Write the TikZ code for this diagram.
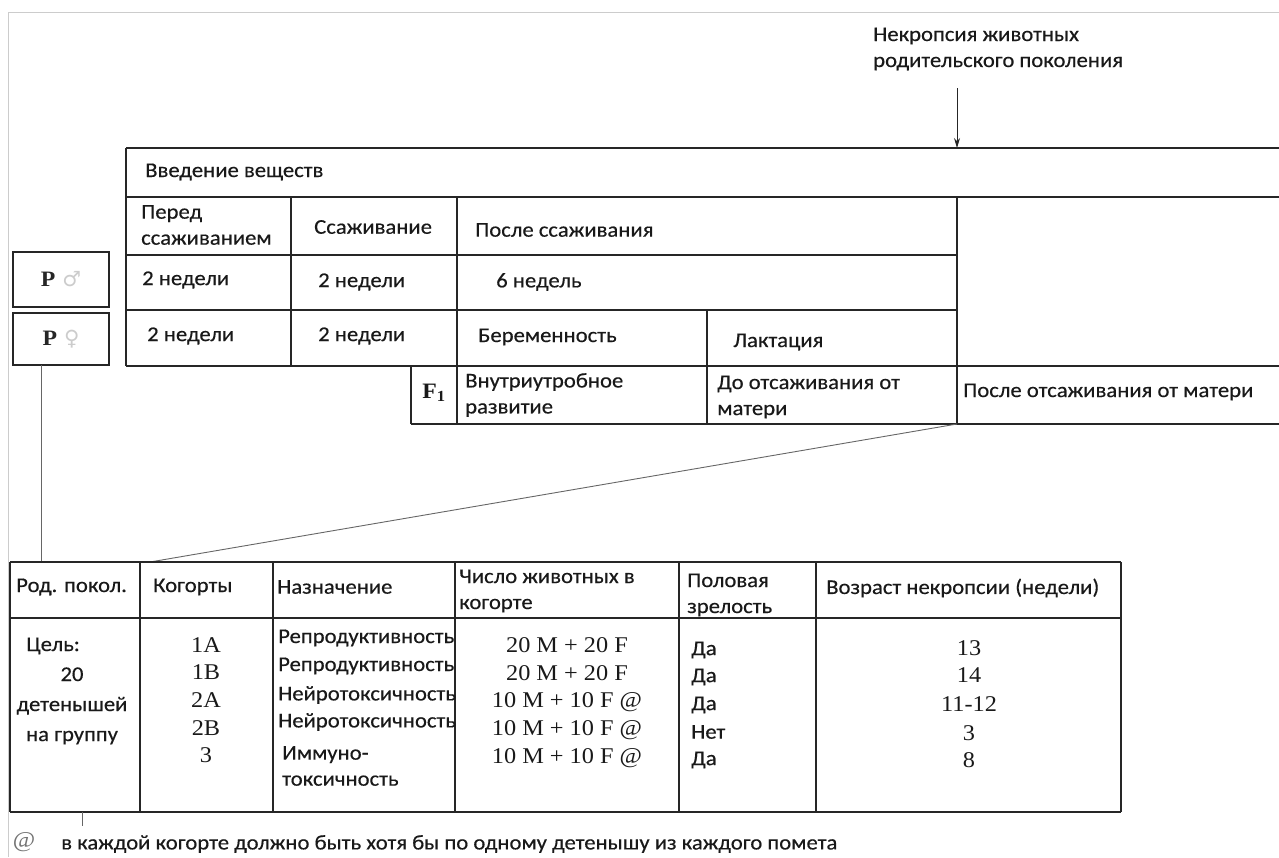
\documentclass[tikz,border=0pt]{standalone}
\usepackage{fontspec}
\setmainfont{Carlito}[FakeStretch=1.08, FakeBold=0.4]
\newfontfamily\tnr{Liberation Serif}[FakeStretch=1.08]
\newfontfamily\symfont{DejaVu Sans}
\usetikzlibrary{arrows.meta,positioning}
\newcommand{\txt}{\fontsize{21}{26}\selectfont}
\newcommand{\numtxt}{\tnr\fontsize{22.5}{26}\selectfont}
\tikzset{
    cell/.style={font=\txt, inner sep=0pt, anchor=west, align=left, text=black!90},
    num/.style={font=\numtxt, inner sep=0pt, text=black!90},
    rule/.style={line width=1.6pt, black!85},
    link/.style={line width=0.9pt, black!60},
    frame/.style={line width=1pt, gray!40},
    pbox/.style={draw, rule, minimum width=96pt, inner sep=0pt},
}

\begin{document}
\begin{tikzpicture}[x=1pt, y=-1pt]
    % Fixes the page size.
    \useasboundingbox (0,0) rectangle (1279,857);

    % Draw scan border.
    \draw[frame] (8,857) -- (8,12.5) -- (1279,12.5);

    % Necropsy label and arrow.
    \node[cell] (necro) at (873,49) {Некропсия животных\\родительского поколения};
    \coordinate (arrtop) at (957,88);
    \coordinate (arrtip) at (957,148);
    \draw[link, black!85, -{Stealth[length=10pt,width=6pt]}] (arrtop) -- (arrtip);

    % Draw upper table.
    \draw[rule] (126,148) -- (1279,148);
    \draw[rule] (126,197) -- (1279,197);
    \draw[rule] (126,255) -- (957,255);
    \draw[rule] (126,310) -- (957,310);
    \draw[rule] (126,366) -- (1279,366);
    \draw[rule] (411,424) -- (1279,424);
    \draw[rule] (126,148) -- (126,366);
    \draw[rule] (291,197) -- (291,366);
    \draw[rule] (457,197) -- (457,424);
    \draw[rule] (707,310) -- (707,424);
    \draw[rule] (957,197) -- (957,424);
    \draw[rule] (411,366) -- (411,424);

    % Upper table texts.
    \node[cell] (intro) at (145,172) {Введение веществ};
    \node[cell] (prepair) at (141,225) {Перед\\ссаживанием};
    \node[cell] (pairing) at (314,227) {Ссаживание};
    \node[cell] (postpair) at (475,230) {После ссаживания};
    \node[cell] (mweekA) at (142,280) {2 недели};
    \node[cell] (mweekB) at (318,282) {2 недели};
    \node[cell] (mweekC) at (496,282) {6 недель};
    \node[cell] (fweekA) at (147,336) {2 недели};
    \node[cell] (fweekB) at (318,336) {2 недели};
    \node[cell] (pregnancy) at (478,337) {Беременность};
    \node[cell] (lactation) at (733,342) {Лактация};
    \node[num, font=\tnr\bfseries\fontsize{22}{26}\selectfont] (fone) at (434,393) {F\textsubscript{1}};
    \node[cell] (inutero) at (465,395) {Внутриутробное\\развитие};
    \node[cell] (preweanF) at (717,397) {До отсаживания от\\матери};
    \node[cell] (postweanF) at (963,392) {После отсаживания от матери};

    % Parent boxes.
    \node[pbox, minimum height=55pt] (pmale) at (61,279.5)
        {{\tnr\bfseries\fontsize{22}{26}\selectfont P}\hspace{7pt}{\symfont\fontsize{21}{24}\selectfont\color{gray!40}♂}};
    \node[pbox, minimum height=52pt] (pfemale) at (61,339)
        {{\tnr\bfseries\fontsize{22}{26}\selectfont P}\hspace{7pt}{\symfont\fontsize{21}{24}\selectfont\color{gray!40}♀}};

    % Draw connectors.
    \coordinate (pdrop) at (41,365);
    \coordinate (gentop) at (41,562);
    \draw[link, line width=0.7pt] (pdrop) -- (gentop);
    \coordinate (wean) at (957,424);
    \coordinate (cohtop) at (150,562);
    \draw[link] (wean) -- (cohtop);

    % Draw lower table.
    \foreach \y in {562,618,812}
        \draw[rule] (10,\y) -- (1121,\y);
    \foreach \x in {10,140,273,455,679,816,1121}
        \draw[rule] (\x,562) -- (\x,812);
    \draw[link, line width=0.7pt] (82,812) -- (82,826);

    % Lower table header.
    \node[cell] (hgen) at (16,587) {Род. покол.};
    \node[cell] (hcoh) at (153,587) {Когорты};
    \node[cell] (hpurp) at (277,587) {Назначение};
    \node[cell] (hnum) at (459,591) {Число животных в\\когорте};
    \node[cell] (hmat) at (687,595) {Половая\\зрелость};
    \node[cell] (hage) at (826,588) {Возраст некропсии (недели)};

    % Lower table body.
    \node[cell, anchor=center, align=center, font=\fontsize{21}{30}\selectfont] (goal) at (72,691)
        {\hspace*{-1.8em}Цель:\\20\\детенышей\\на группу};
    \foreach \c/\y [count=\i] in {1A/645,1B/672,2A/700,2B/728,3/755}
        \node[num] (coh\i) at (206,\y) {\c};
    \foreach \p/\y [count=\i] in {Репродуктивность/638,Репродуктивность/666,Нейротоксичность/695,Нейротоксичность/722}
        \node[cell] (purp\i) at (278,\y) {\p};
    \node[cell] (purp5) at (282,766) {Иммуно-\\токсичность};
    \foreach \n/\y [count=\i] in {20 M + 20 F/645,20 M + 20 F/673,10 M + 10 F @/702,10 M + 10 F @/730,10 M + 10 F @/758}
        \node[num] (num\i) at (567,\y) {\n};
    \foreach \m/\y [count=\i] in {Да/650,Да/677,Да/705,Нет/732,Да/760}
        \node[cell] (mat\i) at (691,\y) {\m};
    \foreach \a/\y [count=\i] in {13/648,14/675,11-12/704,3/733,8/760}
        \node[num] (age\i) at (969,\y) {\a};

    % Footnote.
    \node[num, text=black!55] (notesym) at (24,842) {@};
    \node[cell] (note) at (61,844) {в каждой когорте должно быть хотя бы по одному детенышу из каждого помета};
\end{tikzpicture}
\end{document}
